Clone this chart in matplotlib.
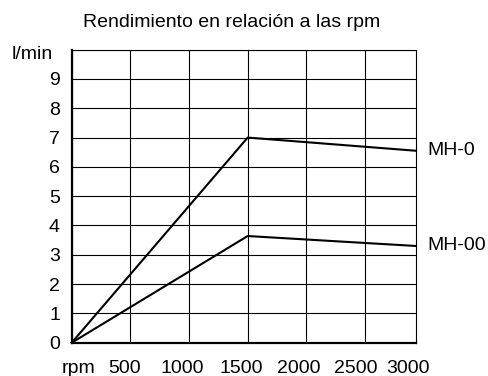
import matplotlib
matplotlib.use("Agg")
import matplotlib.pyplot as plt
import matplotlib.transforms as mtransforms

plt.rcParams["font.family"] = ["Liberation Sans", "DejaVu Sans"]

# ── data ──────────────────────────────────────────────────────────────────
rpm = [0, 1500, 2935]
mh0 = [0, 7.0, 6.55]
mh00 = [0, 3.64, 3.30]
series_labels = ["MH-0", "MH-00"]

grid_x = [0, 500, 1000, 1500, 2000, 2500]
x_label_pos = [54, 446, 945, 1442, 1937, 2425, 2868]
x_labels = ["rpm", "500", "1000", "1500", "2000", "2500", "3000"]
y_ticks = list(range(0, 11))
y_labels = [str(v) for v in range(0, 10)] + ["l/min"]
X_MAX = 2935

# ── figure ────────────────────────────────────────────────────────────────
fig = plt.figure(figsize=(4.88, 3.76), dpi=100, facecolor="white")
ax = fig.add_axes([0.147, 0.0886, 0.7055, 0.7793])

ax.set_xlim(0, X_MAX)
ax.set_ylim(0, 10)

# grid on minor ticks, labels on major ticks
ax.set_xticks(grid_x, minor=True)
ax.set_xticks(x_label_pos)
ax.set_xticklabels(x_labels)
ax.set_yticks(y_ticks)
ax.set_yticklabels(y_labels)
ax.grid(True, which="minor", axis="x", color="black", lw=0.8)
ax.grid(True, which="major", axis="y", color="black", lw=0.8)
ax.tick_params(which="both", length=0, labelsize=14, colors="black")
ax.tick_params(axis="y", pad=8.5)
ax.tick_params(axis="x", pad=12.5)

# unit label sits a bit left and below the top gridline
unit = ax.get_yticklabels()[-1]
unit.set_transform(unit.get_transform() +
                   mtransforms.ScaledTranslation(-7 / 100, -3 / 100, fig.dpi_scale_trans))

for side in ["left", "bottom"]:
    ax.spines[side].set_linewidth(1.6)
for side in ["top", "right"]:
    ax.spines[side].set_linewidth(0.8)

ax.plot(rpm, mh0, color="black", lw=1.5, zorder=3, clip_on=False)
ax.plot(rpm, mh00, color="black", lw=1.5, zorder=3, clip_on=False)

for name, ys in zip(series_labels, [mh0, mh00]):
    ax.annotate(name, xy=(X_MAX, ys[-1]), xytext=(8, 0),
                textcoords="offset points", va="center", ha="left",
                fontsize=14, color="black", annotation_clip=False)

fig.text(0.474, 0.939, "Rendimiento en relación a las rpm",
         ha="center", va="center", fontsize=14, color="black")

fig.savefig("out.png", dpi=100)
